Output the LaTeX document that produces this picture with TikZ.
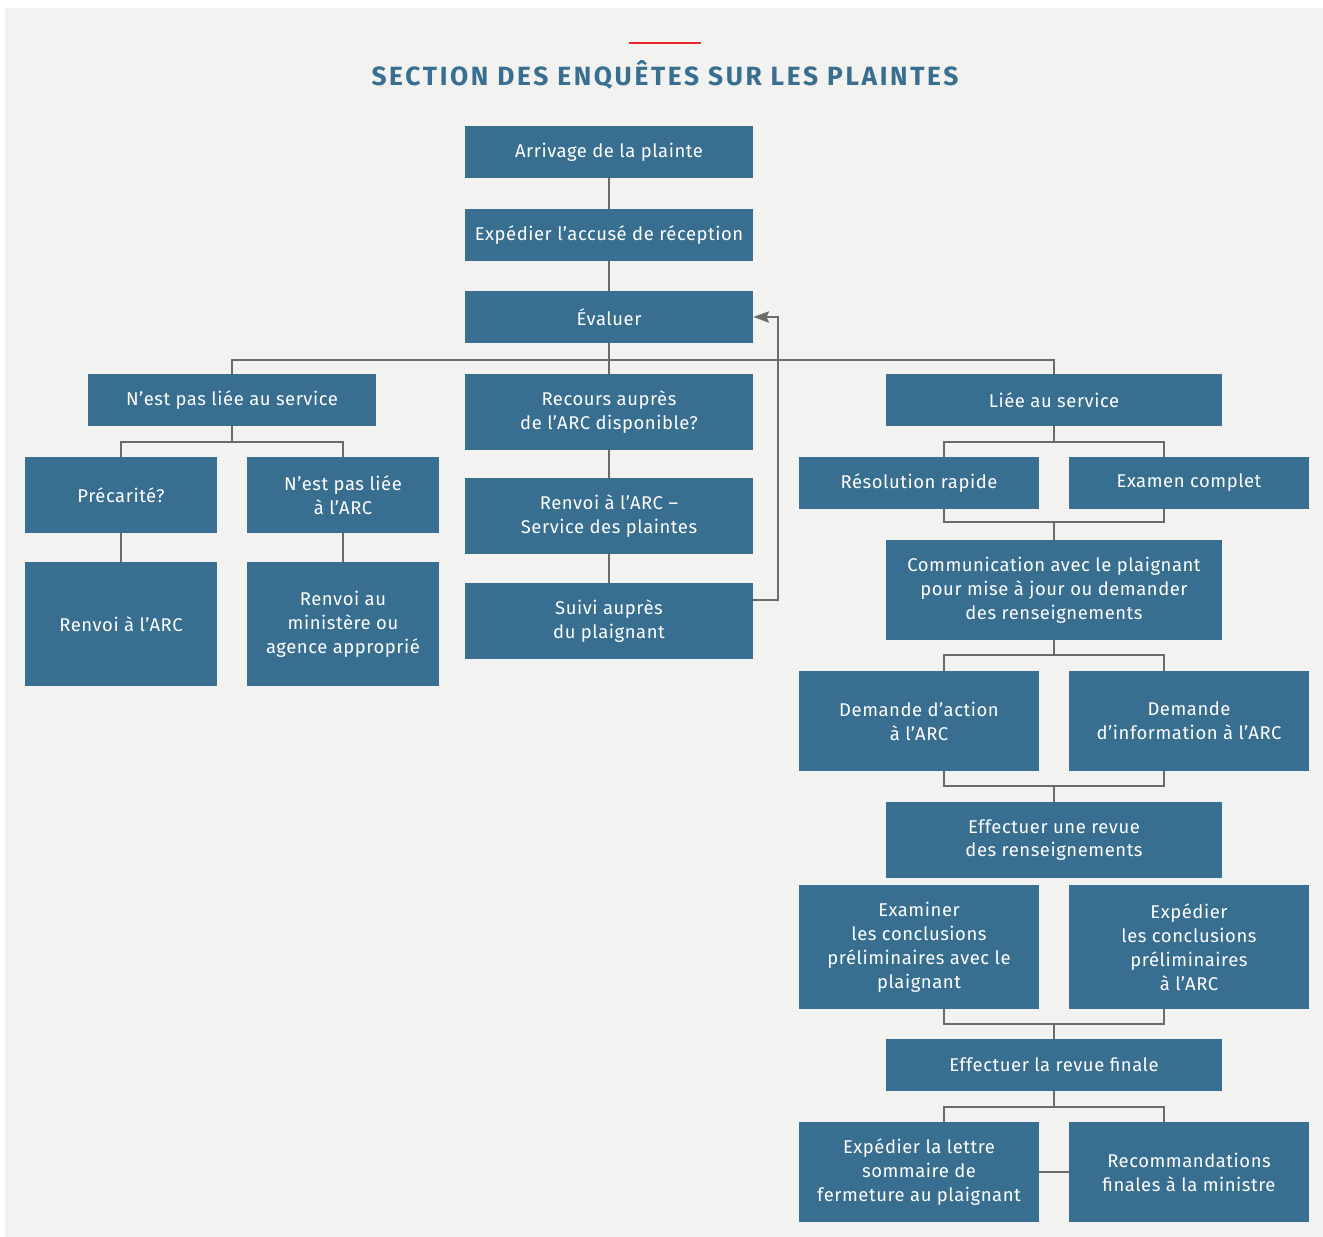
\documentclass[tikz,border=0pt]{standalone}
\usepackage{fontspec}
\setmainfont{Fira Sans}
\usepackage{tikz}
\usetikzlibrary{shapes, arrows.meta, positioning}
\definecolor{boxblue}{HTML}{386E8F}
\definecolor{panel}{HTML}{F2F2F0}
\definecolor{wire}{HTML}{6B6B6B}
\definecolor{accent}{HTML}{E8282B}
\tikzstyle{block} = [fill=boxblue, rectangle, text=white, align=center, inner sep=0pt,
  font=\fontsize{10.5}{13.6}\selectfont\addfontfeatures{LetterSpace=3}]
\tikzstyle{wide} = [block, minimum width=5.76cm]
\tikzstyle{wider} = [block, minimum width=6.72cm]
\tikzstyle{half} = [block, minimum width=4.8cm]
\tikzstyle{narrow} = [block, minimum width=3.84cm]
\tikzstyle{line} = [draw=wire, line width=0.8pt]

\begin{document}
\begin{tikzpicture}[x=0.02cm, y=-0.02cm, >={Stealth[length=9pt,width=6.5pt,inset=1.5pt]}]
  \useasboundingbox (0,0) rectangle (1323,1237);
  \fill[panel] (5,8) rectangle (1323,1237);
  \draw[accent, line width=1.7pt] (629,43) -- (701,43);
  \node[text=boxblue, font=\fontsize{15}{18}\selectfont\bfseries\addfontfeatures{LetterSpace=10}] (title) at (665,75) {SECTION DES ENQUÊTES SUR LES PLAINTES};

  \node[wide, minimum height=1.04cm] (arrivage) at (609,152) {Arrivage de la plainte};
  \node[wide, minimum height=1.04cm] (accuse) at (609,235) {Expédier l’accusé de réception};
  \node[wide, minimum height=1.04cm] (evaluer) at (609,317) {Évaluer};

  \node[wide, minimum height=1.04cm] (nonlie) at (232,400) {N’est pas liée au service};
  \node[wide, minimum height=1.52cm] (recours) at (609,412) {Recours auprès\\de l’ARC disponible?};
  \node[wider, minimum height=1.04cm] (lie) at (1054,400) {Liée au service};

  \node[narrow, minimum height=1.52cm] (precarite) at (121,495) {Précarité?};
  \node[narrow, minimum height=1.52cm] (pasarc) at (343,495) {N’est pas liée\\à l’ARC};
  \node[narrow, minimum height=2.48cm] (renvoiarc) at (121,624) {Renvoi à l’ARC};
  \node[narrow, minimum height=2.48cm] (ministere) at (343,624) {Renvoi au\\ministère ou\\agence approprié};

  \node[wide, minimum height=1.52cm] (plaintes) at (609,516) {Renvoi à l’ARC –\\Service des plaintes};
  \node[wide, minimum height=1.52cm] (suivi) at (609,621) {Suivi auprès\\du plaignant};

  \node[half, minimum height=1.04cm] (rapide) at (919,483) {Résolution rapide};
  \node[half, minimum height=1.04cm] (complet) at (1189,483) {Examen complet};
  \node[wider, minimum height=2cm] (comm) at (1054,590) {Communication avec le plaignant\\pour mise à jour ou demander\\des renseignements};
  \node[half, minimum height=2cm] (action) at (919,721) {Demande d’action\\à l’ARC};
  \node[half, minimum height=2cm] (info) at (1189,721) {Demande\\d’information à l’ARC};
  \node[wider, minimum height=1.52cm] (revue) at (1054,840) {Effectuer une revue\\des renseignements};
  \node[half, minimum height=2.48cm] (examiner) at (919,947) {Examiner\\les conclusions\\préliminaires avec le\\plaignant};
  \node[half, minimum height=2.48cm] (prelim) at (1189,947) {Expédier\\les conclusions\\préliminaires\\à l’ARC};
  \node[wider, minimum height=1.04cm] (finale) at (1054,1065) {Effectuer la revue finale};
  \node[half, minimum height=2cm] (lettre) at (919,1172) {Expédier la lettre\\sommaire de\\fermeture au plaignant};
  \node[half, minimum height=2cm] (recomm) at (1189,1172) {Recommandations\\finales à la ministre};

  \coordinate (bus) at (609,360);
  \coordinate (j1) at (232,442);
  \coordinate (j2) at (1054,442);
  \coordinate (j3) at (1054,522);
  \coordinate (j4) at (1054,655);
  \coordinate (j5) at (1054,786);
  \coordinate (j6) at (1054,1024);
  \coordinate (j7) at (1054,1107);
  \coordinate (back) at (778,600);

  \draw[line] (arrivage) -- (accuse);
  \draw[line] (accuse) -- (evaluer);
  \draw[line] (evaluer) -- (recours);
  \draw[line] (nonlie.north) |- (bus) -| (lie.north);
  \draw[line] (nonlie) -- (j1);
  \draw[line] (precarite.north) |- (j1) -| (pasarc.north);
  \draw[line] (precarite) -- (renvoiarc);
  \draw[line] (pasarc) -- (ministere);
  \draw[line] (recours) -- (plaintes);
  \draw[line] (plaintes) -- (suivi);
  \draw[line,->] (suivi.east |- back) -- (back) |- (evaluer.east);

  \draw[line] (lie) -- (j2);
  \draw[line] ([xshift=0.5cm]rapide.north) |- (j2) -| ([xshift=-0.5cm]complet.north);
  \draw[line] ([xshift=0.5cm]rapide.south) |- (j3) -| ([xshift=-0.5cm]complet.south);
  \draw[line] (j3) -- (comm);
  \draw[line] (comm) -- (j4);
  \draw[line] ([xshift=0.5cm]action.north) |- (j4) -| ([xshift=-0.5cm]info.north);
  \draw[line] ([xshift=0.5cm]action.south) |- (j5) -| ([xshift=-0.5cm]info.south);
  \draw[line] (j5) -- (revue);
  \draw[line] ([xshift=0.5cm]examiner.south) |- (j6) -| ([xshift=-0.5cm]prelim.south);
  \draw[line] (j6) -- (finale);
  \draw[line] (finale) -- (j7);
  \draw[line] ([xshift=0.5cm]lettre.north) |- (j7) -| ([xshift=-0.5cm]recomm.north);
  \draw[line] (lettre) -- (recomm);
\end{tikzpicture}
\end{document}
